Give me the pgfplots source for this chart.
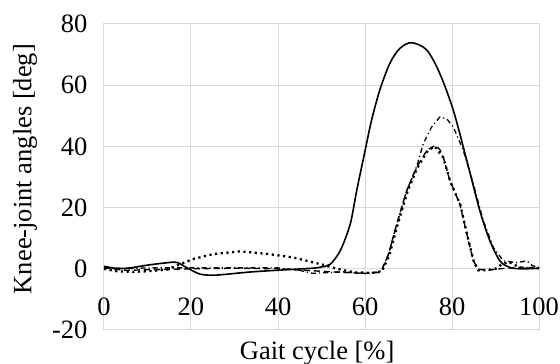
\documentclass[border=0pt]{standalone}
\usepackage{pgfplots}
\pgfplotsset{compat=1.18}
\usepackage{fontspec}
\setmainfont{Liberation Serif}
\definecolor{gridgray}{HTML}{D9D9D9}
\begin{document}
\begin{tikzpicture}
\path[use as bounding box] (-104pt,-34pt) rectangle (456pt,330pt);
\begin{axis}[
  scale only axis,
  width=435pt, height=306pt,
  xmin=0, xmax=100, ymin=-20, ymax=80,
  xtick={0,20,40,60,80,100},
  ytick={-20,0,20,40,60,80},
  grid=major,
  major grid style={gridgray, line width=1pt},
  axis line style={gridgray, line width=1pt},
  tick style={draw=none},
  /pgf/number format/assume math mode=true,
  tick label style={font=\fontsize{26.5}{31}\selectfont},
  label style={font=\fontsize{26.5}{31}\selectfont},
  xticklabel style={anchor=north, yshift=36pt},
  yticklabel style={anchor=east, xshift=-13pt},
  xlabel={Gait cycle [\%]},
  ylabel={Knee-joint angles [deg]},
  xlabel style={at={(axis description cs:0.49,0)}, anchor=center, yshift=-23pt},
  ylabel style={at={(axis description cs:-0.1816,0.526)}, anchor=center},
]
% solid
\addplot[black, line width=1.6pt, smooth, tension=0.5] coordinates {
(0,0.8) (3,0.1) (6,0.3) (10,1.2) (14,1.9) (16.7,2.1) (19,0.4) (22,-1.7) (25,-2.1) (28,-1.8) (34,-1.0) (42,-0.3) (48,0.2) (50,0.6) (52,1.5)
(54.3,5.9) (56.6,14.6) (58.1,25.6) (60,38.5) (61.5,48.5) (63.4,58.4) (65.7,67.1) (68,72) (70.7,73.9) (74.2,71.5) (77.2,63.8) (80.3,51.8) (83.4,35.4) (86.4,19) (88.7,9.2) (91,2.6) (93,0.6) (94.5,0.1) (97,0) (100,0.2)
};
% dashed
\addplot[black, line width=1.4pt, dash pattern=on 6pt off 4pt] coordinates {
(0,0.3) (5,-0.5) (10,-0.3) (15,-0.2) (20,0) (30,0.2) (40,0) (50,-0.8) (55,-1.2) (60,-1.5) (63,-1.2) (63.8,-0.7)
(65.4,4.8) (67.3,14.6) (69.6,25.6) (71.9,33.2) (74.2,38.7) (76.1,40.3) (77.2,39) (78,36.5) (79.5,28.9) (81.8,21.2) (83.4,11.4) (84.9,2.6) (86,-0.1) (88,-0.5) (91,0) (95,0.5) (100,0.3)
};
% dash-dot
\addplot[black, line width=1.3pt, dash pattern=on 5pt off 3pt on 1.2pt off 3pt] coordinates {
(0,0.5) (5,0) (10,0.3) (20,0.3) (30,0.3) (40,0.3) (45,-0.5) (48,-1.5) (52,-1.2) (55,-1) (60,-1.5) (63,-1) (63.8,-0.5)
(65.4,4.8) (67.3,14.6) (69.6,25.6) (71.9,33.5) (73.4,40.9) (75.3,46.3) (77.2,49.6) (78.8,49) (80.3,46.3) (82.6,38.7) (84.9,27.8) (87.2,15.7) (89.5,7) (91.8,2.6) (94.9,2) (97.2,2.6) (98.5,1) (100,0.5)
};
% dotted
\addplot[black, line width=2.3pt, dash pattern=on 2.2pt off 3.5pt] coordinates {
(0,0) (3,-0.8) (6.7,-1) (10,-0.8) (14.4,-0.3) (17.5,1.5) (20.5,3.2) (25.1,4.8) (31.3,5.7) (38,4.8) (43.5,3.7) (48.1,2.1) (51.2,1) (53,0.2) (55.8,-0.7) (58,-1.2) (61.9,-1.3) (63.5,-1)
(64,-0.5) (65.6,4.5) (67.5,14.5) (69.8,25.4) (72,33) (74.4,38.5) (76,40) (78,36.3) (79.6,28.5) (81.9,21) (83.5,11) (85,2.4) (86,-0.5) (88,-0.4) (90,0) (91.5,1.5) (93,2.3) (94.5,1.2) (96,0.3) (100,0.2)
};
\end{axis}
\end{tikzpicture}
\end{document}
